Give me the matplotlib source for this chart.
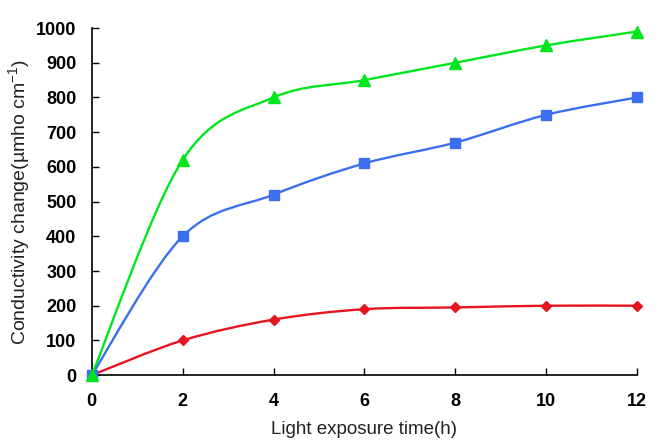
import matplotlib.pyplot as plt
import numpy as np
from matplotlib.path import Path
from matplotlib.patches import PathPatch

plt.rcParams['font.family'] = ['Liberation Sans', 'DejaVu Sans']
plt.rcParams['mathtext.fontset'] = 'custom'
plt.rcParams['mathtext.rm'] = 'Liberation Sans'
plt.rcParams['mathtext.it'] = 'Liberation Sans'

hours = [0, 2, 4, 6, 8, 10, 12]
green_vals = [0, 620, 800, 850, 900, 950, 990]
blue_vals = [0, 400, 520, 610, 670, 750, 800]
red_vals = [0, 100, 160, 190, 195, 200, 200]

x_ticks = [0, 2, 4, 6, 8, 10, 12]
y_ticks = [0, 100, 200, 300, 400, 500, 600, 700, 800, 900, 1000]


def smooth_path(xs, ys):
    # Excel style smoothed line: cubic bezier segments, tension 1/6
    pts = np.column_stack([xs, ys]).astype(float)
    n = len(pts)
    verts = [pts[0]]
    codes = [Path.MOVETO]
    for i in range(n - 1):
        p0 = pts[i - 1] if i > 0 else pts[i]
        p1 = pts[i]
        p2 = pts[i + 1]
        p3 = pts[i + 2] if i + 2 < n else pts[i + 1]
        c1 = p1 + (p2 - p0) / 6.0
        c2 = p2 - (p3 - p1) / 6.0
        verts += [c1, c2, p2]
        codes += [Path.CURVE4] * 3
    return Path(verts, codes)


fig = plt.figure(figsize=(6.65, 4.45), dpi=100)
ax = fig.add_axes([0.138, 0.157, 0.82, 0.78])

# drawn bottom to top: red, blue, green
series = [
    (red_vals, '#E6141E', 'D', 5.5),
    (blue_vals, '#3C6EF0', 's', 7.5),
    (green_vals, '#00E61E', '^', 9),
]
for k, (vals, col, mk, ms) in enumerate(series):
    ax.add_patch(PathPatch(smooth_path(hours, vals), fill=False, edgecolor=col, lw=1.7, zorder=2 + k))
    ax.plot(hours, vals, linestyle='none', marker=mk, color=col, markersize=ms, clip_on=False, zorder=2.5 + k)

ax.set_xlim(0, 12)
ax.set_ylim(0, 1000)
ax.set_xticks(x_ticks)
ax.set_yticks(y_ticks)
ax.tick_params(direction='in', length=5, width=1, labelsize=13)
ax.tick_params(axis='x', pad=13)
ax.tick_params(axis='y', pad=11)
for lab in ax.get_xticklabels() + ax.get_yticklabels():
    lab.set_fontweight('bold')
ax.spines['top'].set_visible(False)
ax.spines['right'].set_visible(False)
ax.spines['left'].set_linewidth(1.2)
ax.spines['bottom'].set_linewidth(1.2)

ax.set_xlabel('Light exposure time(h)', fontsize=13.5, labelpad=8, color='#222222')
ax.set_ylabel('Conductivity change(µmho cm$^{-1}$)', fontsize=14, labelpad=3, color='#222222')

fig.savefig('out.png', dpi=100)
